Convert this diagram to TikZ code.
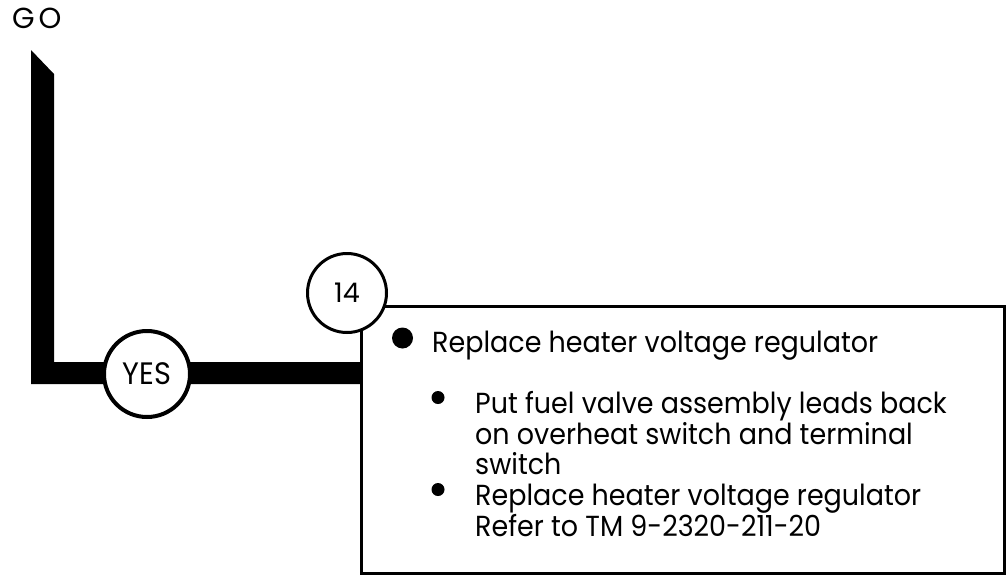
\documentclass[tikz,border=0pt]{standalone}
\usepackage{fontspec}
\setmainfont{Poppins}
\newfontfamily\narrowfont[FakeStretch=0.93]{Poppins}
\usetikzlibrary{positioning}

\tikzset{
  stepcircle/.style={circle, draw, fill=white, inner sep=0pt},
  linetext/.style={anchor=base west, inner sep=0pt, font=\narrowfont\fontsize{29}{31}\selectfont},
}

\begin{document}
\begin{tikzpicture}[x=1pt, y=-1pt]
  \useasboundingbox (0,0) rectangle (1006,576);
  % Start label
  \node[anchor=base west, inner sep=0pt, font=\fontsize{29}{30}\selectfont] (go) at (12,28) {G\kern4pt O};
  % Action box
  \node[draw, line width=3pt, anchor=north west, inner sep=0pt,
        minimum width=643pt, minimum height=267pt] (box) at (360,305) {};
  % Thick flow path from GO to the box
  \coordinate (tipL) at (31,50);
  \coordinate (tipR) at (54,74);
  \fill[black] (tipL) -- (tipR) -- (54,362) -- (box.west |- 0,362)
    -- (box.west |- 0,384) -- (31,384) -- cycle;
  % Circles
  \node[stepcircle, line width=4pt, minimum size=86pt,
        font=\narrowfont\fontsize{31}{32}\selectfont] (yes) at (147,374) {YES};
  \node[stepcircle, line width=3pt, minimum size=79pt,
        font=\fontsize{27}{28}\selectfont] (n14) at (347,293) {14};
  % Main step
  \fill[black] (402.5,338) circle (10.5pt);
  \node[linetext] (main) at (432,352) {Replace heater voltage regulator};
  % Sub steps
  \fill[black] (438,397.5) circle (6.5pt);
  \node[linetext] (subA1) at (475,413) {Put fuel valve assembly leads back};
  \node[linetext] (subA2) at (475,444) {on overheat switch and terminal};
  \node[linetext] (subA3) at (475,474) {switch};
  \fill[black] (438,489.5) circle (6.5pt);
  \node[linetext] (subB1) at (475,505) {Replace heater voltage regulator};
  \node[linetext] (subB2) at (475,536) {Refer to TM 9-2320-211-20};
\end{tikzpicture}
\end{document}
